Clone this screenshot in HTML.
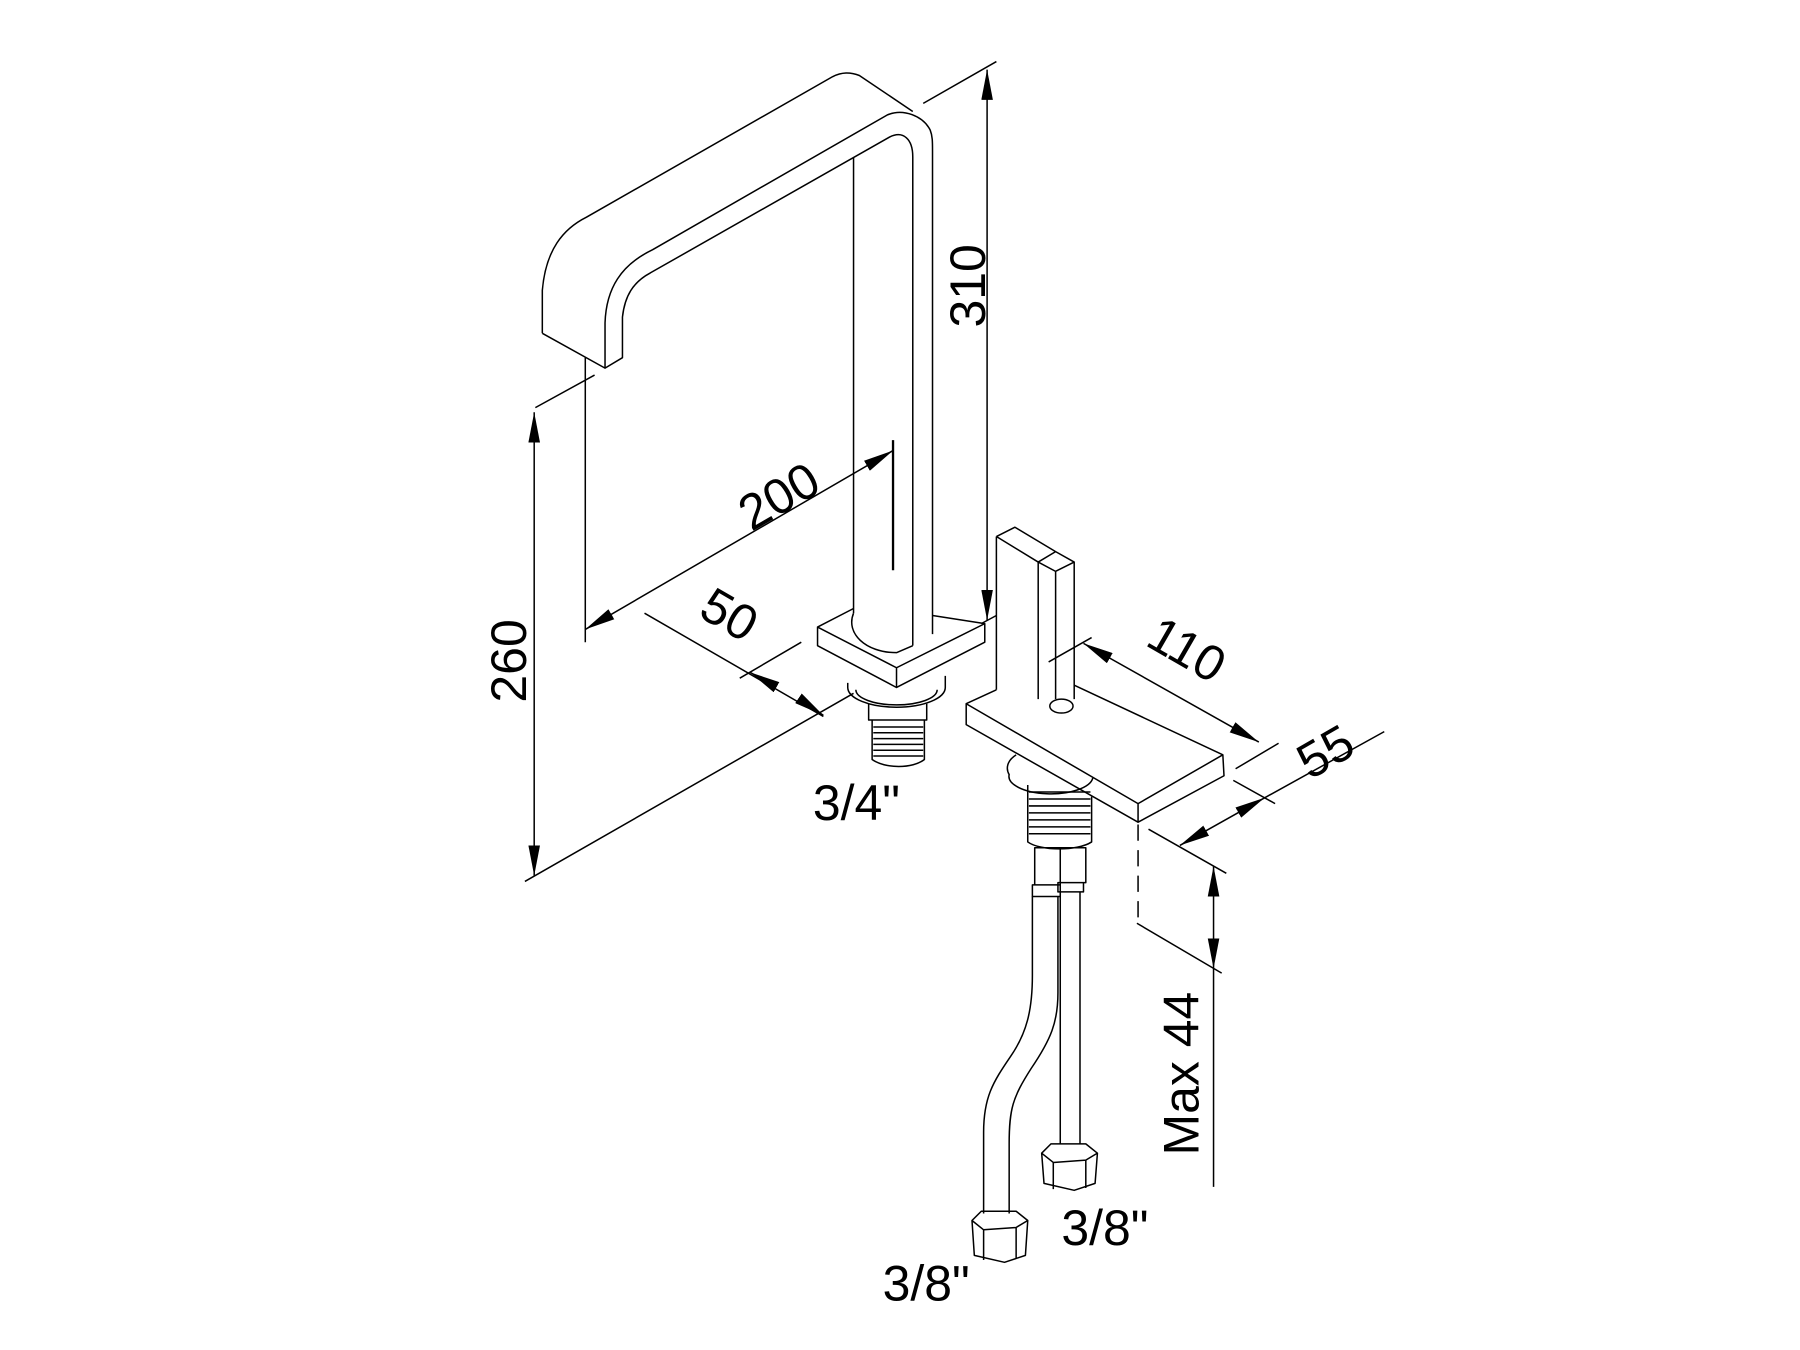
<!DOCTYPE html>
<html><head><style>
html,body{margin:0;padding:0;background:#fff;}
svg{display:block}
text{font-family:"Liberation Sans",sans-serif;font-size:43px;fill:#000}
</style></head><body>
<svg width="1800" height="1350" viewBox="0 0 1550 1162.5" preserveAspectRatio="none" xmlns="http://www.w3.org/2000/svg">
<defs>
<marker id="a" viewBox="0 0 26 10" refX="26" refY="5" markerWidth="26" markerHeight="10" markerUnits="userSpaceOnUse" orient="auto-start-reverse"><path d="M0,0L26,5L0,10z" fill="#000"/></marker>
</defs>
<g fill="none" stroke="#000" stroke-width="1.3" stroke-linejoin="round">
<!-- spout -->
<path d="M467,287 L467,250 C470,215 485,197 505,187 L717,66 C725,62 732,62 740,65 L786,96"/>
<path d="M467,287 L521,317 L536,308 L536,273 C538,255 545,243 560,235 L766,118 C778,112 786,120 786,135 L786,556"/>
<path d="M521,317 L521,278 C522,248 535,228 562,215 L764,99 C778,93 795,100 801,112 C803,117 803,122 803,130 L803,546"/>
<path d="M735,136 L735,528"/>
<path d="M769,379 L769,491" stroke-width="2"/>
<!-- spout base plate -->
<path d="M735,524 L704,540 L704,556 L772,592 L848,553 L848,537 L803,530"/>
<path d="M704,540 L772,575 L848,537 M772,575 L772,592"/>
<path d="M735,528 C728,545 745,562 772,562 L786,556"/>
<!-- nut + thread -->
<path d="M730,588 L730,592 A42,17 0 0 0 814,592 L814,582"/>
<path d="M737,594 A35,13 0 0 0 807,594"/>
<path d="M748,606 L748,620 L798,620 L798,606"/>
<path d="M751,620 L751,654 C762,662 786,662 796,654 L796,620"/>
<path d="M752,626 H795 M752,631 H795 M752,636 H795 M752,641 H795 M752,646 H795 M752,651 H795"/>
<!-- handle base -->
<path d="M858,594 L832,606 L832,624 L980,708 L1054,668 L1053,650 L925,590"/>
<path d="M832,606 L980,692 L1053,650 M980,692 L980,708"/>
<!-- handle -->
<path d="M858,462 L874,454 L909,475 L925,484 L925,602 M858,462 L894,484 L894,602 M858,462 L858,594"/>
<path d="M894,484 L909,475 M925,484 L909,492 L894,484 M909,492 L909,602" />
<ellipse cx="914" cy="608" rx="10" ry="6"/>
<!-- lower nut + thread -->
<path d="M875,650 C867,655 866,662 869,667 A36,15 0 0 0 941,670"/>
<path d="M885,676 L885,725 C896,733 928,733 940,725 L940,686"/>
<path d="M886,682 H939 M886,688 H939 M886,694 H939 M886,700 H939 M886,706 H939 M886,712 H939 M886,718 H939"/>
<path d="M891,730 h22 v32 h-22z M913,730 h22 v30 h-22z M889,762 h24 v10 h-24z M911,760 h22 v8 h-22z"/>
<!-- hoses -->
<path d="M889,772 L889,840 C889,870 884,890 870,910 C855,932 847,945 847,975 L847,1045"/>
<path d="M911,772 L911,855 C911,880 905,895 888,920 C872,945 869,955 869,985 L869,1045"/>
<path d="M913,768 L913,985 M930,768 L930,985"/>
<path d="M837,1051 l8,-8 l30,0 l10,8 l-2,30 l-18,6 l-26,-6z M837,1051 l10,8 l28,-2 l10,-6 M847,1059 v26 M875,1057 v27"/>
<path d="M897,993 l8,-8 l30,0 l10,8 l-2,26 l-18,6 l-26,-6z M897,993 l10,8 l28,-2 l10,-6 M907,1001 v23 M935,999 v24"/>
<!-- dims: 310 -->
<path d="M850,60 L850,534" marker-start="url(#a)" marker-end="url(#a)"/>
<path d="M795,89 L858,53 M845,537 L858,530"/>
<!-- 260 -->
<path d="M460,355 L460,754" marker-start="url(#a)" marker-end="url(#a)"/>
<path d="M461,351 L512,323 M452,759 L735,597"/>
<!-- 200 -->
<path d="M504,308 L504,553"/>
<path d="M504,542 L769,388" marker-start="url(#a)" marker-end="url(#a)"/>
<!-- 50 -->
<path d="M555,528 L709,617 M637,584 L690,553"/>
<path d="M646,579 L662,588" marker-start="url(#a)"/>
<path d="M690,603 L709,616" marker-end="url(#a)"/>
<!-- 110 -->
<path d="M903,570 L940,549 M1064,662 L1101,640"/>
<path d="M933,554 L1084,639" marker-start="url(#a)" marker-end="url(#a)"/>
<!-- 55 -->
<path d="M1062,672 L1098,692 M1089,687 L1192,630"/>
<path d="M1016,728 L1089,687" marker-start="url(#a)" marker-end="url(#a)"/>
<!-- max 44 -->
<path d="M980,710 L980,795" stroke-dasharray="14,8"/>
<path d="M979,795 L1052,838 M989,714 L1056,752"/>
<path d="M1045,746 L1045,834" marker-start="url(#a)" marker-end="url(#a)"/>
<path d="M1045,834 L1045,1022"/>
</g>
<text transform="translate(848,282) rotate(-90)">310</text>
<text transform="translate(453,605) rotate(-90)">260</text>
<text transform="translate(647,458) rotate(-30)">200</text>
<text transform="translate(600,530) rotate(30)">50</text>
<text transform="translate(985,555) rotate(30)">110</text>
<text transform="translate(1128,672) rotate(-30)">55</text>
<text transform="translate(1032,995) rotate(-90)">Max 44</text>
<text x="700" y="706">3/4"</text>
<text x="760" y="1120">3/8"</text>
<text x="914" y="1072">3/8"</text>
</svg>
</body></html>
